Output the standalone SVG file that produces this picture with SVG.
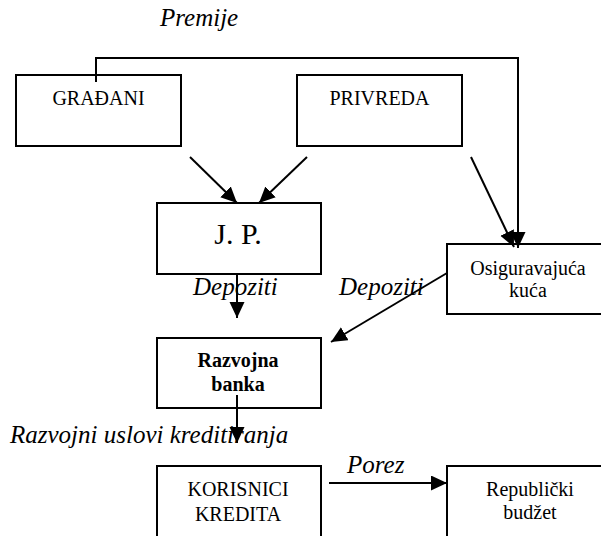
<svg xmlns="http://www.w3.org/2000/svg" width="601" height="536" viewBox="0 0 601 536">
<style>
.box{fill:#fff;stroke:#000;stroke-width:2}
.t{font-family:"Liberation Serif","Times New Roman",serif;font-size:20px;fill:#000;text-anchor:middle}
.b{font-weight:bold}
.lab{font-family:"Liberation Serif","Times New Roman",serif;font-size:25px;font-style:italic;fill:#000}
.c{fill:none;stroke:#000;stroke-width:2}
</style>
<defs>
<marker id="ah" markerUnits="userSpaceOnUse" markerWidth="18" markerHeight="16" refX="16" refY="7.5" orient="auto">
<path d="M0,0 L16,7.5 L0,15 z" fill="#000"/>
</marker>
</defs>
<rect width="601" height="536" fill="#fff"/>
<g id="gradjani"><rect class="box" x="16" y="75" width="165" height="71"/><text class="t" x="98.5" y="105">GRAĐANI</text></g>
<g id="privreda"><rect class="box" x="297" y="75" width="165" height="71"/><text class="t" x="379.5" y="105">PRIVREDA</text></g>
<g id="jp"><rect class="box" x="157" y="203" width="164" height="71"/><text class="t" x="238" y="244" style="font-size:30px">J. P.</text></g>
<g id="osiguravajuca"><rect class="box" x="447" y="244" width="160" height="70"/><text class="t" x="528" y="275">Osiguravajuća</text><text class="t" x="528" y="297">kuća</text></g>
<g id="razvojna"><rect class="box" x="157" y="338" width="164" height="70"/><text class="t b" x="238" y="367">Razvojna</text><text class="t b" x="238" y="391">banka</text></g>
<g id="korisnici"><rect class="box" x="157" y="466" width="164" height="80"/><text class="t" x="238" y="496">KORISNICI</text><text class="t" x="238" y="521">KREDITA</text></g>
<g id="budzet"><rect class="box" x="447" y="466" width="160" height="80"/><text class="t" x="530" y="496">Republički</text><text class="t" x="530" y="519">budžet</text></g>
<g id="connectors">
<path class="c" d="M96,82 V58 H518 V248" marker-end="url(#ah)"/>
<line class="c" x1="190" y1="157" x2="237" y2="203" marker-end="url(#ah)"/>
<line class="c" x1="307" y1="157" x2="259" y2="203" marker-end="url(#ah)"/>
<line class="c" x1="471" y1="157" x2="514" y2="247" marker-end="url(#ah)"/>
<line class="c" x1="237" y1="273" x2="237" y2="318" marker-end="url(#ah)"/>
<line class="c" x1="447" y1="273" x2="331" y2="342" marker-end="url(#ah)"/>
<line class="c" x1="237" y1="395" x2="237" y2="443" marker-end="url(#ah)"/>
<line class="c" x1="329" y1="483" x2="447" y2="483" marker-end="url(#ah)"/>
</g>
<g id="labels">
<text class="lab" x="160" y="26">Premije</text>
<text class="lab" x="193" y="295">Depoziti</text>
<text class="lab" x="339" y="295">Depoziti</text>
<text class="lab" x="10" y="443">Razvojni uslovi kreditiranja</text>
<text class="lab" x="347" y="473">Porez</text>
</g>
</svg>
